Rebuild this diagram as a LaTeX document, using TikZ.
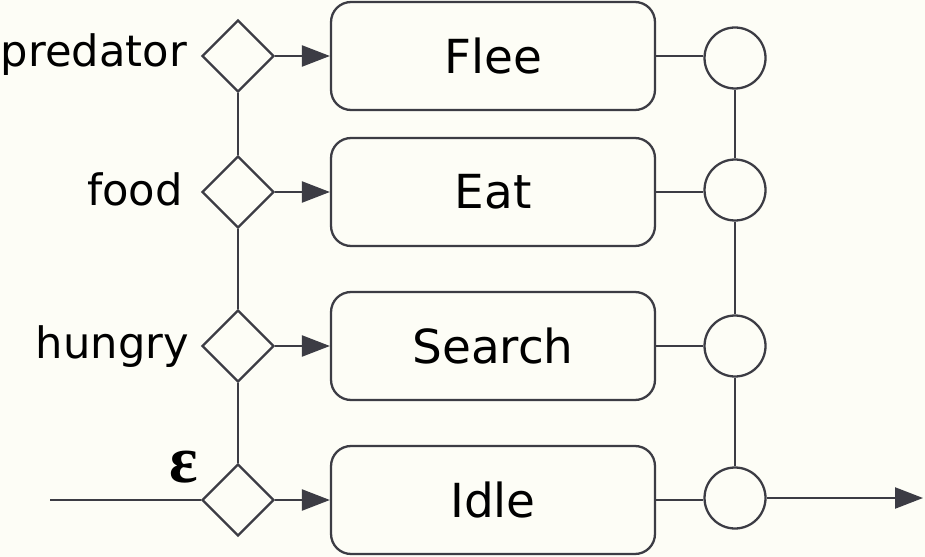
\documentclass[tikz,border=0pt]{standalone}
\usepackage{fontspec}
\setmainfont{DejaVu Sans}
\newfontfamily\epsfont{Liberation Serif}
\usetikzlibrary{shapes.geometric, arrows.meta}
\definecolor{bgcol}{HTML}{FDFDF6}
\definecolor{linecol}{HTML}{3C3C44}

\begin{document}
\begin{tikzpicture}[x=0.02cm, y=-0.02cm, line width=1.3pt, color=linecol,
    >={Triangle[length=0.56cm, width=0.42cm]},
    behaviour/.style={draw, rounded corners=0.4cm, fill=bgcol, minimum width=6.48cm,
        minimum height=2.16cm, text=black, font=\fontsize{26.7}{32}\selectfont},
    cond/.style={draw, diamond, fill=bgcol, minimum width=1.44cm,
        minimum height=1.44cm, inner sep=0pt},
    merge/.style={draw, circle, fill=bgcol, minimum size=1.22cm, inner sep=0pt},
    cue/.style={anchor=base east, inner sep=0pt, text=black,
        font=\fontsize{24.6}{29}\selectfont}]

    % Background
    \fill[bgcol] (0, 0) rectangle (925, 557);

    % Conditions
    \node[cond] (predcond) at (238, 56) {};
    \node[cond] (foodcond) at (238, 192) {};
    \node[cond] (hungcond) at (238, 346) {};
    \node[cond] (idlecond) at (238, 500) {};

    \node[cue] (predlabel) at (188, 67) {predator};
    \node[cue] (foodlabel) at (184, 205) {food};
    \node[cue] (hunglabel) at (190, 358) {hungry};
    \node[inner sep=0pt, text=black, font=\epsfont\bfseries\fontsize{38}{44}\selectfont]
        (eps) at (184, 467) {ε};

    % Behaviours
    \node[behaviour] (flee) at (493, 56) {Flee};
    \node[behaviour] (eat) at (493, 192) {Eat};
    \node[behaviour] (search) at (493, 346) {Search};
    \node[behaviour] (idle) at (493, 500) {Idle};

    % Merge points
    \node[merge] (fleemerge) at (735, 58) {};
    \node[merge] (eatmerge) at (735, 190) {};
    \node[merge] (searchmerge) at (735, 346) {};
    \node[merge] (idlemerge) at (735, 498) {};

    % Input and output
    \coordinate (input) at (50, 500);
    \coordinate (output) at (923, 498);

    \draw (input) -- (idlecond.west);
    \draw (predcond.south) -- (foodcond.north);
    \draw (foodcond.south) -- (hungcond.north);
    \draw (hungcond.south) -- (idlecond.north);

    \draw[->] (predcond.east) -- (flee.west);
    \draw[->] (foodcond.east) -- (eat.west);
    \draw[->] (hungcond.east) -- (search.west);
    \draw[->] (idlecond.east) -- (idle.west);

    \draw (flee.east) -- (flee.east -| fleemerge.west);
    \draw (eat.east) -- (eat.east -| eatmerge.west);
    \draw (search.east) -- (searchmerge.west);
    \draw (idle.east) -- (idle.east -| idlemerge.west);

    \draw (fleemerge.south) -- (eatmerge.north);
    \draw (eatmerge.south) -- (searchmerge.north);
    \draw (searchmerge.south) -- (idlemerge.north);
    \draw[->] (idlemerge.east) -- (output);
\end{tikzpicture}
\end{document}
